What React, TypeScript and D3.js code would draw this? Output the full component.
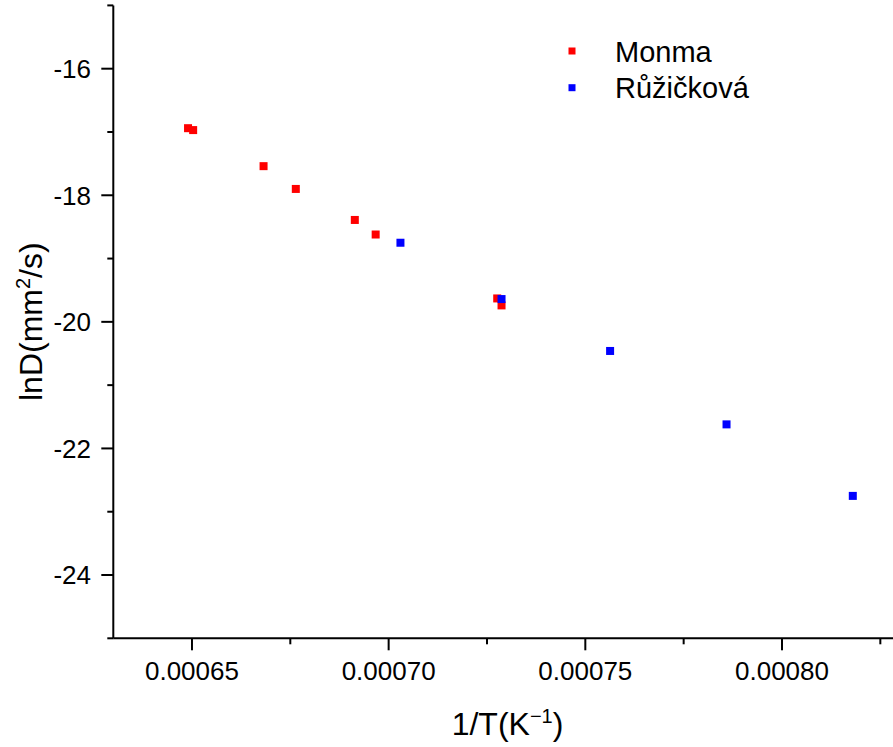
import React from "react";
import * as d3 from "d3";

const monmaX = [0.000649, 0.0006503, 0.0006682, 0.0006764, 0.0006914, 0.0006967, 0.0007276, 0.0007287];
const monmaY = [-16.94, -16.97, -17.54, -17.90, -18.39, -18.62, -19.63, -19.74];
const ruzX = [0.000703, 0.0007287, 0.0007563, 0.0007859, 0.000818];
const ruzY = [-18.75, -19.64, -20.46, -21.62, -22.75];
const xMajorTicks = [0.00065, 0.0007, 0.00075, 0.0008];
const xMinorTicks = [0.000675, 0.000725, 0.000775, 0.000825];
const yMajorTicks = [-16, -18, -20, -22, -24];
const yMinorTicks = [-15, -17, -19, -21, -23, -25];
const seriesNames = ["Monma", "Růžičková"];
const seriesColors = ["#ff0000", "#0000ff"];

const W = 893, H = 747;
const FONT = "'Liberation Sans', Arial, sans-serif";

export default function App() {
  const x = d3.scaleLinear().domain([0.00063, 0.00083]).range([113.3, 900]);
  const y = d3.scaleLinear().domain([-25, -15]).range([638.3, 5.4]);
  const x0 = x.range()[0];
  const yb = y.range()[0];
  const fmt = d3.format(".5f");
  const ms = 8;
  const monma = monmaX.map((v, i) => [v, monmaY[i]]);
  const ruz = ruzX.map((v, i) => [v, ruzY[i]]);
  const series = [monma, ruz];
  return (
    <svg width={W} height={H} style={{ position: "fixed", left: 0, top: 0, background: "#fff" }} fontFamily={FONT}>
      <rect x={0} y={0} width={W} height={H} fill="#fff" />
      <line x1={x0} x2={W + 10} y1={yb} y2={yb} stroke="#000" strokeWidth={2} />
      <line x1={x0} x2={x0} y1={y.range()[1]} y2={yb} stroke="#000" strokeWidth={2} />
      {xMajorTicks.map((t) => (
        <g key={"xm" + t}>
          <line x1={x(t)} x2={x(t)} y1={yb} y2={yb + 12} stroke="#000" strokeWidth={2} />
          <text x={x(t)} y={680} fontSize={26} textAnchor="middle" fill="#000">{fmt(t)}</text>
        </g>
      ))}
      {xMinorTicks.map((t) => (
        <line key={"xn" + t} x1={x(t)} x2={x(t)} y1={yb} y2={yb + 6} stroke="#000" strokeWidth={2} />
      ))}
      {yMajorTicks.map((t) => (
        <g key={"ym" + t}>
          <line x1={x0} x2={x0 - 12} y1={y(t)} y2={y(t)} stroke="#000" strokeWidth={2} />
          <text x={91} y={y(t)} dy="0.36em" fontSize={26} textAnchor="end" fill="#000">{String(t)}</text>
        </g>
      ))}
      {yMinorTicks.map((t) => (
        <line key={"yn" + t} x1={x0} x2={x0 - 6} y1={y(t)} y2={y(t)} stroke="#000" strokeWidth={2} />
      ))}
      {series.map((s, si) =>
        s.map((d, i) => (
          <rect key={si + "-" + i} x={x(d[0]) - ms / 2} y={y(d[1]) - ms / 2} width={ms} height={ms} fill={seriesColors[si]} />
        ))
      )}
      {seriesNames.map((n, i) => (
        <g key={n}>
          <rect x={572 - 3.5} y={51 + i * 36.7 - 3.5} width={7} height={7} fill={seriesColors[i]} />
          <text x={615} y={61.7 + i * 36} fontSize={29} fill="#000">{n}</text>
        </g>
      ))}
      <text x={507.5} y={735} fontSize={32} textAnchor="middle" fill="#000">
        1/T(K<tspan dy={-12} fontSize={20}>−1</tspan><tspan dy={12}>)</tspan>
      </text>
      <text transform="translate(41.5,321.7) rotate(-90)" fontSize={32} textAnchor="middle" fill="#000">
        lnD(mm<tspan dy={-12} fontSize={20}>2</tspan><tspan dy={12}>/s)</tspan>
      </text>
    </svg>
  );
}
